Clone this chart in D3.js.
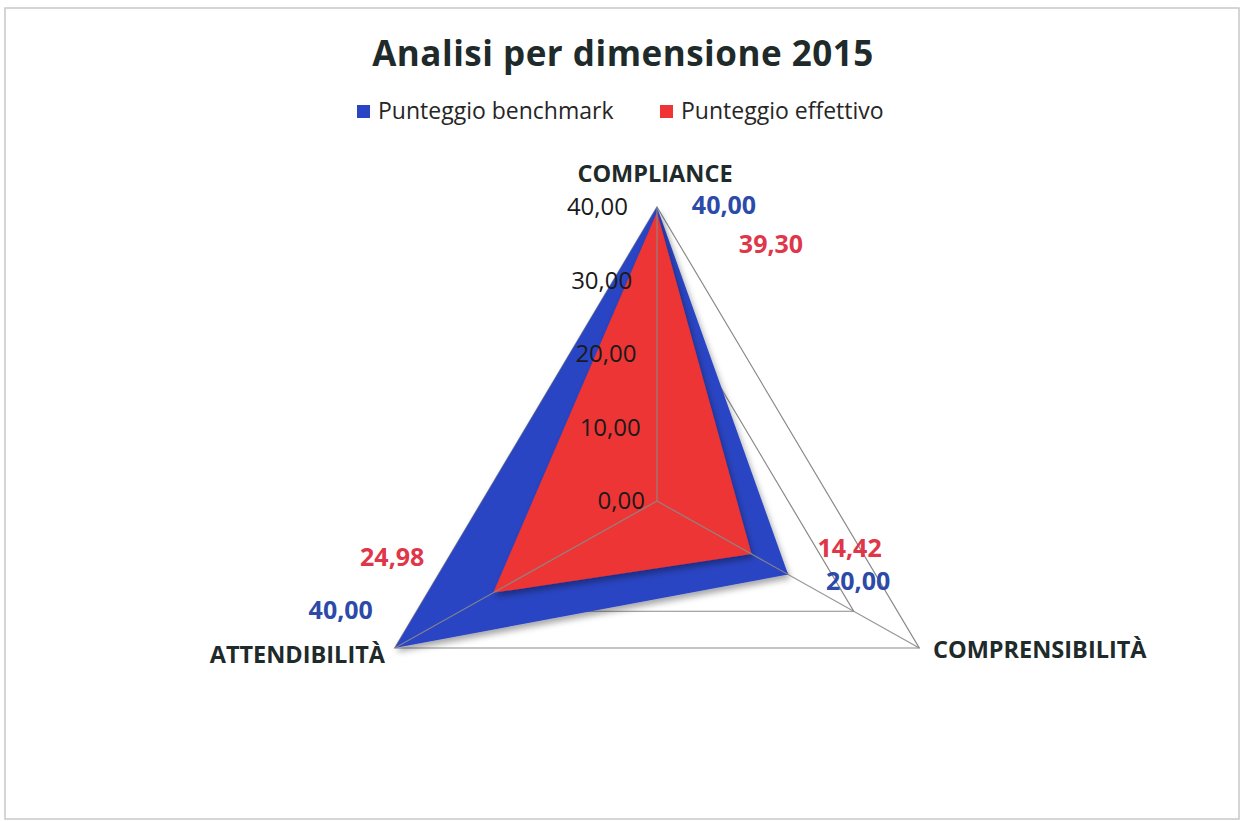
<!DOCTYPE html>
<html>
<head>
<meta charset="utf-8">
<script src="https://cdn.jsdelivr.net/npm/d3@7"></script>
<style>
  body { margin: 0; background: #fff; }
  svg { display: block; }
  text { font-family: "Open Sans", "Noto Sans", sans-serif; }
</style>
</head>
<body>
<div id="chart"></div>
<script>
// data
const categories = ["COMPLIANCE", "COMPRENSIBILITÀ", "ATTENDIBILITÀ"];
const seriesNames = ["Punteggio benchmark", "Punteggio effettivo"];
const benchmark = [40, 20, 40];
const effettivo = [39.30, 14.42, 24.98];
const tickValues = [0, 10, 20, 30, 40];

const width = 1241, height = 821;
const cx = 657, cy = 501;
const stretchX = 1.03; // scan is slightly wider than tall

const colors = { benchmark: "#2a45c3", effettivo: "#ee3434" };

// data label offsets (px) from the point, per series and axis
const labelOffsets = {
    benchmark: [[67, -2], [70, 6], [-54, -38]],
    effettivo: [[114, 32], [98, -6], [-101, -36]]
};

const fmt = d3.formatLocale({ decimal: ",", thousands: ".", grouping: [3], currency: ["€", ""] }).format(",.2f");

const svg = d3.select("#chart").append("svg")
    .attr("width", width)
    .attr("height", height);

const defs = svg.append("defs");
const shadow = defs.append("filter").attr("id", "shadow")
    .attr("x", "-20%").attr("y", "-20%").attr("width", "140%").attr("height", "140%");
shadow.append("feDropShadow")
    .attr("dx", 2).attr("dy", 4).attr("stdDeviation", 3)
    .attr("flood-color", "#000").attr("flood-opacity", 0.35);

// chart frame
svg.append("rect")
    .attr("x", 5).attr("y", 8)
    .attr("width", 1234).attr("height", 811)
    .attr("fill", "none")
    .attr("stroke", "#c8c8c8")
    .attr("stroke-width", 1.5);

const r = d3.scaleLinear().domain([0, 40]).range([0, 294]);
const angle = i => (-90 + i * 120) * Math.PI / 180;
const point = (v, i) => [cx + r(v) * Math.cos(angle(i)) * stretchX, cy + r(v) * Math.sin(angle(i))];

const line = d3.line().curve(d3.curveLinearClosed);

// title
svg.append("text")
    .attr("x", 623).attr("y", 66)
    .attr("text-anchor", "middle")
    .attr("font-size", 35)
    .attr("font-weight", 700)
    .attr("letter-spacing", 0.5)
    .attr("fill", "#1f2a2a")
    .text("Analisi per dimensione 2015");

// legend
const legendX = [357, 660];
const legend = svg.append("g");
seriesNames.forEach((name, i) => {
    const g = legend.append("g").attr("transform", `translate(${legendX[i]},111)`);
    g.append("rect")
        .attr("x", 0).attr("y", -6)
        .attr("width", 13).attr("height", 13)
        .attr("fill", i === 0 ? colors.benchmark : colors.effettivo);
    g.append("text")
        .attr("x", 21).attr("y", 8)
        .attr("font-size", 23)
        .attr("fill", "#262626")
        .text(name);
});

// grid
const grid = svg.append("g");
tickValues.filter(t => t > 0).forEach(t => {
    grid.append("path")
        .attr("d", line(categories.map((c, i) => point(t, i))))
        .attr("fill", "none")
        .attr("stroke", "#8a8a8a")
        .attr("stroke-width", 1.2);
});

// series
const series = [
    { key: "benchmark", values: benchmark },
    { key: "effettivo", values: effettivo }
];
svg.append("g").selectAll("path")
    .data(series)
    .join("path")
    .attr("d", d => line(d.values.map(point)))
    .attr("fill", d => colors[d.key])
    .attr("filter", "url(#shadow)");

// spokes
svg.append("g").selectAll("line")
    .data(categories)
    .join("line")
    .attr("x1", cx).attr("y1", cy)
    .attr("x2", (d, i) => point(40, i)[0])
    .attr("y2", (d, i) => point(40, i)[1])
    .attr("stroke", "#8a8a8a")
    .attr("stroke-opacity", 0.9)
    .attr("stroke-width", 1.2);

// radial tick labels
svg.append("g").selectAll("text")
    .data(tickValues)
    .join("text")
    .attr("x", d => cx - 12 - (d / 40) * 17)
    .attr("y", d => cy - r(d) + 8)
    .attr("text-anchor", "end")
    .attr("font-size", 24)
    .attr("fill", "#1a1a1a")
    .text(d => fmt(d));

// axis labels
const axisLabelPos = [
    { x: 655, y: 182, anchor: "middle" },
    { x: 933, y: 658, anchor: "start" },
    { x: 385, y: 663, anchor: "end" }
];
svg.append("g").selectAll("text")
    .data(categories)
    .join("text")
    .attr("x", (d, i) => axisLabelPos[i].x)
    .attr("y", (d, i) => axisLabelPos[i].y)
    .attr("text-anchor", (d, i) => axisLabelPos[i].anchor)
    .attr("font-size", 23.5)
    .attr("font-weight", 700)
    .attr("fill", "#1f2a2a")
    .text(d => d);

// data labels
series.forEach(s => {
    svg.append("g").selectAll("text")
        .data(s.values)
        .join("text")
        .attr("x", (d, i) => point(d, i)[0] + labelOffsets[s.key][i][0])
        .attr("y", (d, i) => point(d, i)[1] + labelOffsets[s.key][i][1] + 9)
        .attr("text-anchor", "middle")
        .attr("font-size", 25)
        .attr("font-weight", 700)
        .attr("fill", s.key === "benchmark" ? "#2c4aa8" : "#e0364a")
        .text(d => fmt(d));
});
</script>
</body>
</html>
